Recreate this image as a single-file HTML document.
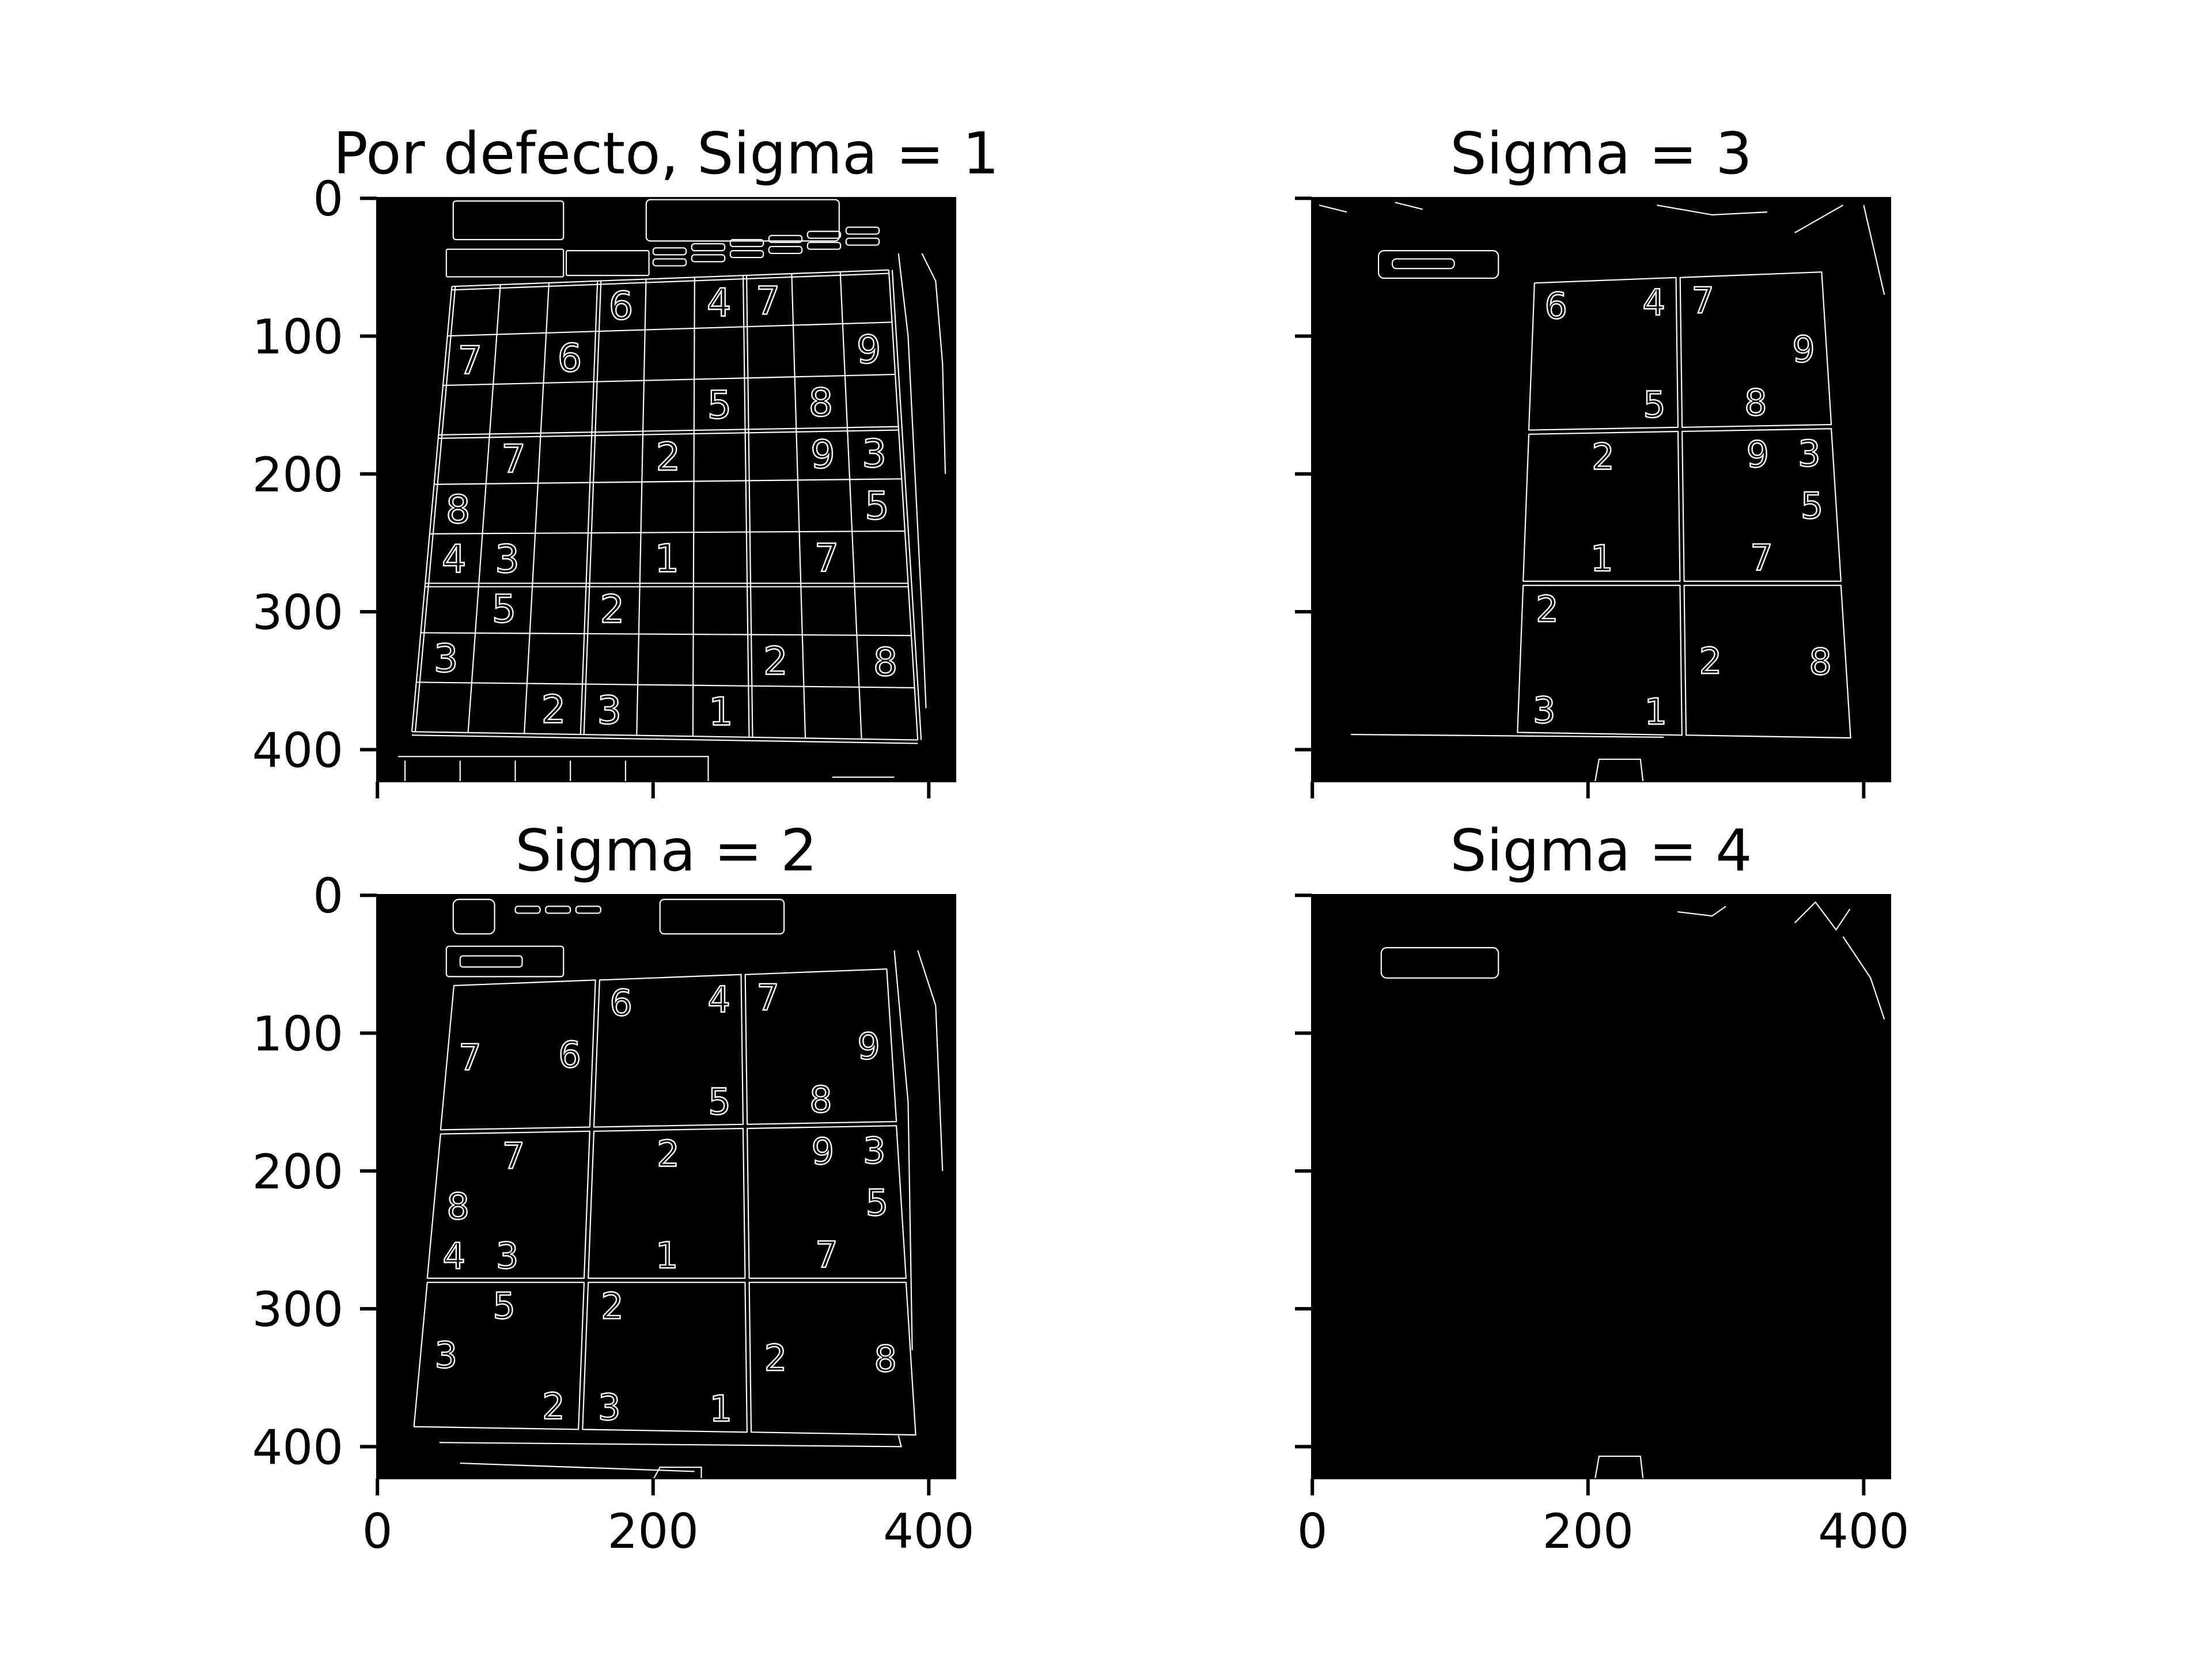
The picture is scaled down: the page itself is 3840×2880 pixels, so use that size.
<!DOCTYPE html>
<html><head><meta charset="utf-8"><style>
html,body{margin:0;padding:0;background:#fff;}
svg{display:block;font-family:"DejaVu Sans","Liberation Sans",sans-serif;}
</style></head><body>
<svg id="fig" width="3840" height="2880" viewBox="0 0 3840 2880" xmlns="http://www.w3.org/2000/svg">
<rect width="3840" height="2880" fill="#fff"/>
</svg>
<script>
const panelTitles = ["Por defecto, Sigma = 1", "Sigma = 3", "Sigma = 2", "Sigma = 4"];
const sigmas = [1, 3, 2, 4];
const yTicks = [0, 100, 200, 300, 400];
const xTicks = [0, 200, 400];
const imgW = 420, imgH = 424;
const cornerTL = [54, 64], cornerTR = [371, 52], cornerBR = [392, 393], cornerBL = [25, 387];
const digitRows = [0,0,0,1,1,1,2,2,3,3,3,3,4,4,5,5,5,5,6,6,7,7,7,8,8,8];
const digitCols = [3,5,6,0,2,8,5,7,1,4,7,8,0,8,0,1,4,7,1,3,0,6,8,2,3,5];
const digitVals = ["6","4","7","7","6","9","5","8","7","2","9","3","8","5","4","3","1","7","5","2","3","2","8","2","3","1"];

const NS = "http://www.w3.org/2000/svg";
const fig = document.getElementById('fig');
const axX = [654, 2277, 654, 2277], axY = [343, 343, 1553, 1553];
const axW = 1005, axH = 1014;
const s = axW / imgW;

function mk(tag, attrs, parent) {
  const e = document.createElementNS(NS, tag);
  for (const k in attrs) e.setAttribute(k, attrs[k]);
  parent.appendChild(e);
  return e;
}
function bil(u, v) {
  const top = [cornerTL[0] + (cornerTR[0]-cornerTL[0])*u, cornerTL[1] + (cornerTR[1]-cornerTL[1])*u];
  const bot = [cornerBL[0] + (cornerBR[0]-cornerBL[0])*u, cornerBL[1] + (cornerBR[1]-cornerBL[1])*u];
  return [top[0] + (bot[0]-top[0])*v, top[1] + (bot[1]-top[1])*v];
}
function line(g, a, b, w) {
  const l = mk('line', {x1:a[0], y1:a[1], x2:b[0], y2:b[1], stroke:'#fff', 'stroke-width':w||0.9}, g);
  
  
}
function poly(g, pts, name) {
  const p = mk('polygon', {points: pts.map(q=>q.join(',')).join(' '), fill:'none', stroke:'#fff', 'stroke-width':0.9, 'stroke-linejoin':'round'}, g);
  
  
}
function box(g, c0, c1, r0, r1, inset) {
  const a = bil(c0/9, r0/9), b = bil(c1/9, r0/9), c = bil(c1/9, r1/9), d = bil(c0/9, r1/9);
  poly(g, [[a[0]+inset,a[1]+inset],[b[0]-inset,b[1]+inset],[c[0]-inset,c[1]-inset],[d[0]+inset,d[1]-inset]], 'sudoku-box');
}
function digit(g, r, c, v, size) {
  const p = bil((c+0.5)/9, (r+0.5)/9);
  const t = mk('text', {x:p[0], y:p[1]+size*0.36, 'font-size':size, 'text-anchor':'middle', fill:'none', stroke:'#fff', 'stroke-width':1.0}, g);
  t.textContent = v;
  
  
}
function rrect(g, x, y, w, h, rx, name) {
  const r = mk('rect', {x:x, y:y, width:w, height:h, rx:rx, fill:'none', stroke:'#fff', 'stroke-width':0.9}, g);
  
  
}
function path(g, d, name) {
  const p = mk('path', {d:d, fill:'none', stroke:'#fff', 'stroke-width':0.9}, g);
  
  
}

for (let k = 0; k < 4; k++) {
  const sig = sigmas[k];
  const x0 = axX[k], y0 = axY[k];
  const ax = mk('g', {}, fig);
  
  

  const bg = mk('rect', {x:x0, y:y0, width:axW, height:axH, fill:'#000'}, ax);
  
  

  const clipId = 'clip' + k;
  const cp = mk('clipPath', {id: clipId}, ax);
  mk('rect', {x:x0, y:y0, width:axW, height:axH}, cp);
  const outer = mk('g', {'clip-path':'url(#' + clipId + ')'}, ax);
  const g = mk('g', {transform:'translate(' + (x0 + 0.5*s) + ',' + (y0 + 0.5*s) + ') scale(' + s + ')'}, outer);
  
  

  if (sig === 1) {
    for (let i = 0; i <= 9; i++) {
      line(g, bil(i/9, 0), bil(i/9, 1));
      line(g, bil(0, i/9), bil(1, i/9));
      if (i % 3 === 0) {
        const a = bil(i/9, 0), b = bil(i/9, 1);
        line(g, [a[0]+2.5, a[1]], [b[0]+2.5, b[1]]);
        const c = bil(0, i/9), d = bil(1, i/9);
        line(g, [c[0], c[1]+2.5], [d[0], d[1]+2.5]);
      }
    }
    for (let j = 0; j < digitVals.length; j++) digit(g, digitRows[j], digitCols[j], digitVals[j], 28);
    rrect(g, 50, 37, 85, 20, 1, 'header-box');
    rrect(g, 137, 38, 60, 18, 1, 'header-box');
    for (let i = 0; i < 6; i++) { rrect(g, 200 + i*28, 36 - i*3, 24, 5, 2, 'header-text'); rrect(g, 200 + i*28, 44 - i*3, 24, 5, 2, 'header-text'); }
    rrect(g, 55, 2, 80, 28, 2, 'top-text');
    rrect(g, 195, 1, 140, 30, 3, 'top-banner');
    path(g, 'M378 40 L385 100 L390 200 L395 300 L398 370', 'side-edge');
    path(g, 'M395 40 L405 60 L410 120 L412 200', 'side-edge');
    path(g, 'M15 405 L240 405 L240 424 M20 424 L20 408 M60 424 L60 408 M100 424 L100 408 M140 424 L140 408 M180 424 L180 408', 'bottom-edge');
    path(g, 'M330 420 L375 420', 'bottom-edge');
  } else if (sig === 2) {
    for (let bc = 0; bc < 3; bc++) for (let br = 0; br < 3; br++) box(g, bc*3, bc*3+3, br*3, br*3+3, 1.5);
    for (let j = 0; j < digitVals.length; j++) digit(g, digitRows[j], digitCols[j], digitVals[j], 26);
    rrect(g, 50, 37, 85, 22, 2, 'header-box');
    rrect(g, 60, 44, 45, 8, 2, 'header-text');
    rrect(g, 55, 3, 30, 25, 4, 'top-text');
    for (let i = 0; i < 3; i++) rrect(g, 100 + i*22, 8, 18, 5, 2, 'top-text');
    rrect(g, 205, 3, 90, 25, 3, 'top-banner');
    path(g, 'M45 397 L380 400 L378 392', 'bottom-line');
    path(g, 'M60 412 L230 418 M200 424 L205 415 L235 415 L235 424', 'bottom-edge');
    path(g, 'M375 40 L385 150 L388 330', 'side-edge');
    path(g, 'M392 40 L405 80 L410 200', 'side-edge');
  } else if (sig === 3) {
    for (let bc = 1; bc < 3; bc++) for (let br = 0; br < 3; br++) box(g, bc*3, bc*3+3, br*3, br*3+3, 1.5);
    for (let j = 0; j < digitVals.length; j++) if (digitCols[j] >= 3) digit(g, digitRows[j], digitCols[j], digitVals[j], 26);
    rrect(g, 48, 38, 87, 20, 4, 'header-box');
    rrect(g, 58, 44, 45, 7, 3, 'header-text');
    path(g, 'M28 389 L255 391', 'bottom-line');
    path(g, 'M205 424 L208 407 L238 407 L240 424', 'bottom-edge');
    path(g, 'M250 5 L290 12 L330 10 M350 25 L385 5 M400 5 L415 70', 'top-edges');
    path(g, 'M5 5 L25 10 M60 3 L80 8', 'top-edges');
  } else {
    rrect(g, 50, 38, 85, 22, 4, 'header-box');
    path(g, 'M205 424 L208 407 L238 407 L240 424', 'bottom-edge');
    path(g, 'M265 12 L290 15 L300 8 M350 20 L365 5 L380 25 L390 10 M385 30 L405 60 L415 90', 'top-edges');
  }

  const fr = mk('rect', {x:x0, y:y0, width:axW, height:axH, fill:'none', stroke:'#000', 'stroke-width':2}, ax);
  
  

  const showY = (k === 0 || k === 2), showX = (k >= 2);
  yTicks.forEach(v => {
    const yy = y0 + (v + 0.5) * s;
    const t = mk('line', {x1:x0-29, y1:yy, x2:x0, y2:yy, stroke:'#000', 'stroke-width':6}, ax);
    
    
    if (showY) {
      const lb = mk('text', {x:x0-58, y:yy+30, 'font-size':83, 'text-anchor':'end', fill:'#000'}, ax);
      lb.textContent = v;
      
      
    }
  });
  xTicks.forEach(v => {
    const xx = x0 + (v + 0.5) * s;
    const t = mk('line', {x1:xx, y1:y0+axH, x2:xx, y2:y0+axH+29, stroke:'#000', 'stroke-width':6}, ax);
    
    
    if (showX) {
      const lb = mk('text', {x:xx, y:y0+axH+58+62, 'font-size':83, 'text-anchor':'middle', fill:'#000'}, ax);
      lb.textContent = v;
      
      
    }
  });
  const tt = mk('text', {x:x0 + axW/2, y:y0 - 42, 'font-size':100, 'text-anchor':'middle', fill:'#000'}, ax);
  tt.textContent = panelTitles[k];
  
  
}
</script>
</body></html>
